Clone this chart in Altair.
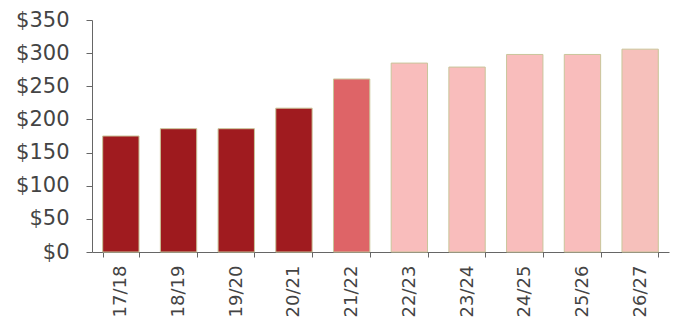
import altair as alt
import pandas as pd

years = ["17/18", "18/19", "19/20", "20/21", "21/22", "22/23", "23/24", "24/25", "25/26", "26/27"]
values = [175, 186, 186, 217, 261, 285, 279, 298, 298, 306]
colors = ["#A01B1F", "#9E1A1E", "#A01B1F", "#A01B1F", "#DE6467",
          "#F9BDBC", "#F9BDBC", "#F9BDBC", "#F9BDBC", "#F6C0BB"]

df = pd.DataFrame({"year": years, "value": values, "color": colors})

FONT = "DejaVu Sans"

chart = alt.Chart(df).mark_bar(stroke="#C9C59A", strokeWidth=1).encode(
    x=alt.X("year:N", sort=years,
            scale=alt.Scale(paddingInner=0.37, paddingOuter=0.185),
            axis=alt.Axis(title=None, labelAngle=-90, labelFontSize=18,
                          labelFont=FONT, labelColor="#444444",
                          labelPadding=8, tickSize=5, tickColor="#666666",
                          domainColor="#666666", tickBand="extent",
                          labelAlign="right", labelBaseline="middle")),
    y=alt.Y("value:Q", scale=alt.Scale(domain=[0, 350]),
            axis=alt.Axis(title=None, values=[0, 50, 100, 150, 200, 250, 300, 350],
                          labelExpr="'$' + datum.value", grid=False,
                          labelFontSize=21, labelFont=FONT, labelColor="#444444",
                          labelPadding=17, tickSize=6, tickColor="#666666",
                          domainColor="#666666")),
    color=alt.Color("color:N", scale=None),
).properties(
    width=577, height=232,
    background="white",
    autosize=alt.AutoSizeParams(type="none"),
    padding={"left": 92, "top": 20, "right": 6, "bottom": 71},
).configure_view(strokeWidth=0)

chart.save("out.html", embed_options={"renderer": "svg", "actions": False})
